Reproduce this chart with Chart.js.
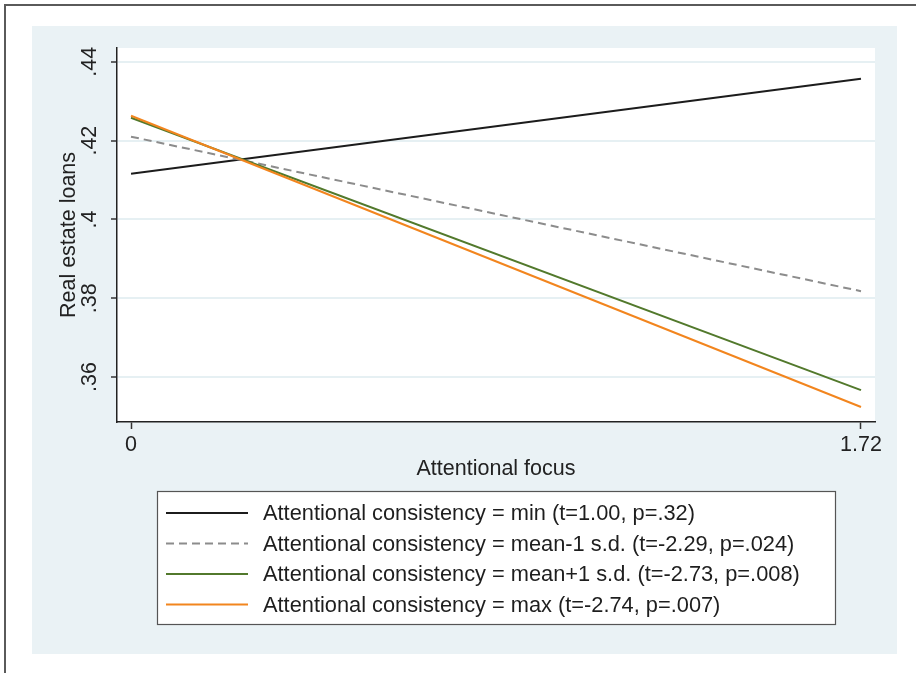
<!DOCTYPE html>
<html>
<head>
<meta charset="utf-8">
<script src="https://cdn.jsdelivr.net/npm/chart.js@4"></script>
<style>
    body { margin: 0; background: #ffffff; width: 916px; height: 673px; overflow: hidden; position: relative; }
    #moldura { position: absolute; left: 4px; top: 4px; right: -10px; bottom: -10px; border-left: 2px solid #5a5a5a; border-top: 2px solid #5a5a5a; }
    #painel { position: absolute; left: 32px; top: 26px; width: 865px; height: 628px; background: #eaf2f5; }
</style>
</head>
<body>
<div id="moldura"></div>
<div id="painel"><canvas id="grafico"></canvas></div>
<script>
// Valores
const xValores = [0, 1.72];
const xTicks = [0, 1.72];
const yTicks = [0.36, 0.38, 0.4, 0.42, 0.44];

const serieMin = [0.4116, 0.4357];
const serieMediaMenos = [0.4210, 0.3818];
const serieMediaMais = [0.4258, 0.3567];
const serieMax = [0.4263, 0.3524];

const rotulos = [
    'Attentional consistency = min (t=1.00, p=.32)',
    'Attentional consistency = mean-1 s.d. (t=-2.29, p=.024)',
    'Attentional consistency = mean+1 s.d. (t=-2.73, p=.008)',
    'Attentional consistency = max (t=-2.74, p=.007)'
];

const fonte = "'Liberation Sans', Arial, Helvetica, sans-serif";
Chart.defaults.font.family = fonte;
Chart.defaults.font.size = 21.5;
Chart.defaults.color = '#222222';

// Junta x e y em pontos
function pontos(ys) {
    return xValores.map((x, i) => ({ x: x, y: ys[i] }));
}

// Fundo branco da área do gráfico
const fundoArea = {
    id: 'fundoArea',
    beforeDraw(chart) {
        const { ctx, chartArea } = chart;
        ctx.save();
        ctx.fillStyle = '#ffffff';
        ctx.fillRect(chartArea.left, chartArea.top, chartArea.right - chartArea.left, chartArea.bottom - chartArea.top);
        ctx.restore();
    }
};

// Legenda em caixa, uma linha por série
const legendaCaixa = {
    id: 'legendaCaixa',
    afterDraw(chart) {
        const { ctx, chartArea } = chart;
        const esq = chartArea.left + 40;
        const topo = chartArea.bottom + 69;
        const larg = 678;
        const alt = 133;
        ctx.save();
        ctx.fillStyle = '#ffffff';
        ctx.fillRect(esq, topo, larg, alt);
        ctx.strokeStyle = '#555555';
        ctx.lineWidth = 1.2;
        ctx.strokeRect(esq + 0.5, topo + 0.5, larg, alt);
        ctx.font = '21.8px ' + fonte;
        ctx.textBaseline = 'middle';
        ctx.fillStyle = '#1e1e1e';
        chart.data.datasets.forEach((ds, i) => {
            const y = topo + 22 + i * 30.5;
            ctx.beginPath();
            ctx.strokeStyle = ds.borderColor;
            ctx.lineWidth = ds.borderWidth;
            ctx.setLineDash(ds.borderDash || []);
            ctx.moveTo(esq + 9, y);
            ctx.lineTo(esq + 91, y);
            ctx.stroke();
            ctx.setLineDash([]);
            ctx.fillText(ds.label, esq + 106, y + 1);
        });
        ctx.restore();
    }
};

const ctx = document.getElementById('grafico').getContext('2d');

new Chart(ctx, {
    type: 'line',
    data: {
        datasets: [
            { label: rotulos[0], data: pontos(serieMin), borderColor: '#1c1c1c', borderWidth: 2, order: 4 },
            { label: rotulos[1], data: pontos(serieMediaMenos), borderColor: '#8c8c8c', borderWidth: 2, borderDash: [8, 5], order: 3 },
            { label: rotulos[2], data: pontos(serieMediaMais), borderColor: '#52792c', borderWidth: 2, order: 2 },
            { label: rotulos[3], data: pontos(serieMax), borderColor: '#f2851e', borderWidth: 2, order: 1 }
        ]
    },
    options: {
        responsive: true,
        maintainAspectRatio: false,
        animation: false,
        layout: { padding: { left: 0, top: 22, right: 22, bottom: 172 } },
        elements: { point: { radius: 0 }, line: { tension: 0 } },
        plugins: {
            legend: { display: false },
            tooltip: { enabled: false }
        },
        scales: {
            x: {
                type: 'linear',
                min: -0.033,
                max: 1.753,
                afterBuildTicks: (escala) => { escala.ticks = xTicks.map(v => ({ value: v })); },
                afterFit: (escala) => { escala.height = 60; escala.paddingLeft = 0; escala.paddingRight = 0; },
                ticks: {
                    padding: 3,
                    maxRotation: 0,
                    autoSkip: false,
                    callback: (v) => String(v)
                },
                grid: { drawOnChartArea: false, drawTicks: true, tickLength: 7, tickColor: '#333333', tickWidth: 1.5 },
                border: { display: true, color: '#222222', width: 1.5 },
                title: { display: true, text: 'Attentional focus', padding: 0 }
            },
            y: {
                type: 'linear',
                min: 0.3486,
                max: 0.4435,
                afterBuildTicks: (escala) => { escala.ticks = yTicks.map(v => ({ value: v })); },
                afterFit: (escala) => { escala.width = 85; escala.paddingTop = 0; escala.paddingBottom = 0; },
                ticks: {
                    padding: 6,
                    minRotation: 90,
                    maxRotation: 90,
                    crossAlign: 'center',
                    autoSkip: false,
                    callback: (v) => String(v).replace(/^0/, '')
                },
                grid: { drawOnChartArea: true, color: '#e6f0f3', lineWidth: 2, drawTicks: true, tickLength: 6, tickColor: '#333333', tickWidth: 1.5 },
                border: { display: true, color: '#222222', width: 1.5 },
                title: { display: true, text: 'Real estate loans', padding: { top: 24, bottom: 0 } }
            }
        }
    },
    plugins: [fundoArea, legendaCaixa]
});
</script>
</body>
</html>
